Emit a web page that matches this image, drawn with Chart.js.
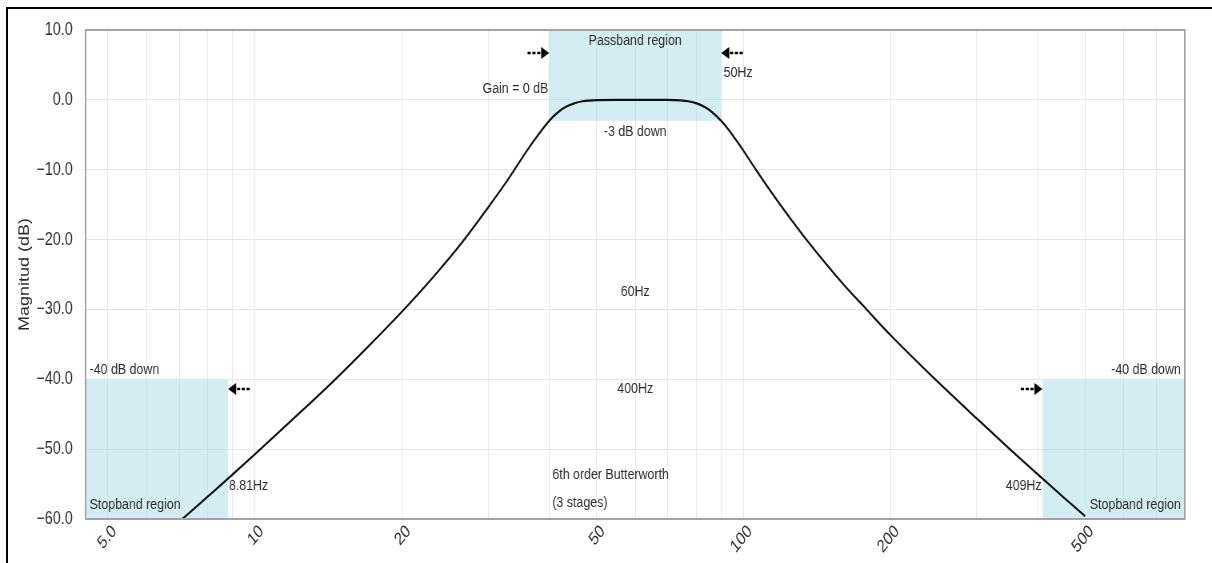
<!DOCTYPE html>
<html>
<head>
<meta charset="utf-8">
<title>Butterworth band-pass</title>
<script src="https://cdn.jsdelivr.net/npm/chart.js@4.4.0/dist/chart.umd.min.js"></script>
<style>
    html, body { margin: 0; padding: 0; background: #fff; overflow: hidden; }
    #frameTop { position: absolute; left: 6px; top: 7px; width: 1206px; height: 2px; background: #000; }
    #frameLeft { position: absolute; left: 6px; top: 7px; width: 2px; height: 556px; background: #000; }
    /* the source picture is squeezed sideways, so the chart is drawn wider and scaled back */
    #wrap { position: absolute; left: 0; top: 0; width: 1515px; height: 563px; transform: scaleX(0.8); transform-origin: 0 0; }
</style>
</head>
<body>
<div id="frameTop"></div>
<div id="frameLeft"></div>
<div id="wrap"><canvas id="bodeChart"></canvas></div>

<script>
// ===== DATA =====
const FREQ_HZ = [7.1, 8, 8.81, 10, 12, 14.6, 17, 20, 23, 26.6, 30, 32.8, 36, 38, 40, 42, 43.3, 45, 46.8, 50,
    55, 60, 65, 70, 74.3, 77, 80.2, 83.6, 86, 90, 93, 98, 100, 106, 116.6, 125, 134.4, 160, 178, 200,
    245, 300, 352, 409, 450, 500];
const MAGNITUDE_DB = [-60, -56.8, -54.2, -50.7, -45.6, -40, -35.4, -30.3, -25.6, -20.3, -15.4, -11.6, -7.3, -5, -3, -1.6, -1, -0.5, -0.2, -0.03,
    0, 0, 0, -0.01, -0.08, -0.2, -0.5, -1.1, -1.7, -3, -4.2, -6.4, -7.3, -10, -14.2, -17.1, -20, -26.4, -29.9, -33.7,
    -39.8, -45.6, -50.1, -54.2, -56.8, -59.6];

const X_GRID_HZ = [5, 6, 7, 8, 9, 10, 20, 30, 40, 50, 60, 70, 80, 90, 100, 200, 300, 400, 500, 600, 700];
const X_TICK_HZ = [5, 10, 20, 50, 100, 200, 500];
const X_TICK_LABELS = ['5.0', '10', '20', '50', '100', '200', '500'];
const X_RANGE = [4.5, 800];
const Y_RANGE = [-60, 10];
const Y_STEP = 10;

const PASSBAND_HZ = [40, 90];
const PASSBAND_FLOOR_DB = -3;
const STOPBAND_LOW_HZ = 8.81;
const STOPBAND_HIGH_HZ = 409;
const STOPBAND_CEIL_DB = -40;

// text notes: anchor in Hz / dB
const NOTES = [
    { text: 'Passband region', hz: 60, db: 8.5, align: 'center' },
    { text: 'Gain = 0 dB', hz: 40, db: 1.6, align: 'right', dx: -1 },
    { text: '50Hz', hz: 90, db: 3.9, align: 'left', dx: 3 },
    { text: '-3 dB down', hz: 60, db: -4.6, align: 'center' },
    { text: '60Hz', hz: 60, db: -27.4, align: 'center' },
    { text: '400Hz', hz: 60, db: -41.3, align: 'center' },
    { text: '6th order Butterworth', hz: 40, db: -53.7, align: 'left', dx: 4 },
    { text: '(3 stages)', hz: 40, db: -57.6, align: 'left', dx: 4 },
    { text: '-40 dB down', hz: X_RANGE[0], db: -38.7, align: 'left', dx: 5 },
    { text: 'Stopband region', hz: X_RANGE[0], db: -58, align: 'left', dx: 5 },
    { text: '8.81Hz', hz: STOPBAND_LOW_HZ, db: -55.3, align: 'left', dx: 1 },
    { text: '-40 dB down', hz: X_RANGE[1], db: -38.7, align: 'right', dx: -5 },
    { text: 'Stopband region', hz: X_RANGE[1], db: -58, align: 'right', dx: -5 },
    { text: '409Hz', hz: STOPBAND_HIGH_HZ, db: -55.3, align: 'right', dx: -1 }
];

// arrows: tip position and direction (+1 points right)
const ARROWS = [
    { hz: PASSBAND_HZ[0], db: 6.7, dir: 1 },
    { hz: PASSBAND_HZ[1], db: 6.7, dir: -1 },
    { hz: STOPBAND_LOW_HZ, db: -41.4, dir: -1 },
    { hz: STOPBAND_HIGH_HZ, db: -41.4, dir: 1 }
];

const SHADE = 'rgba(176, 222, 232, 0.55)';
const TEXT_COLOR = '#2b2b2b';
const FONT = '"Liberation Sans", Arial, sans-serif';

// ===== HELPERS =====
function fillBand(ctx, x, y, hz0, hz1, db0, db1) {
    const left = x.getPixelForValue(hz0);
    const right = x.getPixelForValue(hz1);
    const top = y.getPixelForValue(db0);
    const bottom = y.getPixelForValue(db1);
    ctx.fillRect(left, top, right - left, bottom - top);
}

function drawArrow(ctx, tipX, tipY, dir) {
    const headW = 10;
    const headH = 6;
    const tailLen = 17;
    const baseX = tipX - dir * headW;

    ctx.beginPath();
    ctx.moveTo(tipX, tipY);
    ctx.lineTo(baseX, tipY - headH);
    ctx.lineTo(baseX, tipY + headH);
    ctx.closePath();
    ctx.fill();

    ctx.beginPath();
    ctx.setLineDash([4, 2]);
    ctx.lineWidth = 2.4;
    ctx.moveTo(baseX - dir * tailLen, tipY);
    ctx.lineTo(baseX, tipY);
    ctx.stroke();
    ctx.setLineDash([]);
}

// ===== ANNOTATION PLUGIN =====
const annotationPlugin = {
    id: 'filterNotes',
    beforeDatasetsDraw(chart) {
        const { ctx, scales: { x, y } } = chart;
        ctx.save();
        ctx.fillStyle = SHADE;
        fillBand(ctx, x, y, PASSBAND_HZ[0], PASSBAND_HZ[1], Y_RANGE[1], PASSBAND_FLOOR_DB);
        fillBand(ctx, x, y, X_RANGE[0], STOPBAND_LOW_HZ, STOPBAND_CEIL_DB, Y_RANGE[0]);
        fillBand(ctx, x, y, STOPBAND_HIGH_HZ, X_RANGE[1], STOPBAND_CEIL_DB, Y_RANGE[0]);
        ctx.restore();
    },
    afterDatasetsDraw(chart) {
        const { ctx, chartArea, scales: { x, y } } = chart;
        ctx.save();

        // plot frame
        ctx.strokeStyle = '#a3a3a3';
        ctx.lineWidth = 2;
        ctx.strokeRect(chartArea.left, chartArea.top, chartArea.right - chartArea.left, chartArea.bottom - chartArea.top);

        // notes
        ctx.fillStyle = TEXT_COLOR;
        ctx.font = `15.5px ${FONT}`;
        ctx.textBaseline = 'middle';
        NOTES.forEach(note => {
            ctx.textAlign = note.align;
            ctx.fillText(note.text, x.getPixelForValue(note.hz) + (note.dx || 0), y.getPixelForValue(note.db));
        });

        // arrows
        ctx.fillStyle = '#000';
        ctx.strokeStyle = '#000';
        ARROWS.forEach(a => drawArrow(ctx, x.getPixelForValue(a.hz), y.getPixelForValue(a.db), a.dir));

        ctx.restore();
    }
};

// ===== CHART =====
new Chart(document.getElementById('bodeChart').getContext('2d'), {
    type: 'line',
    data: {
        datasets: [{
            label: 'Magnitude',
            data: FREQ_HZ.map((hz, i) => ({ x: hz, y: MAGNITUDE_DB[i] })),
            borderColor: '#111',
            borderWidth: 2.2,
            pointRadius: 0,
            cubicInterpolationMode: 'monotone',
            fill: false
        }]
    },
    options: {
        responsive: true,
        maintainAspectRatio: false,
        animation: false,
        layout: { padding: { top: 30, right: 34, left: 0, bottom: 0 } },
        plugins: {
            legend: { display: false },
            tooltip: { enabled: false }
        },
        scales: {
            x: {
                type: 'logarithmic',
                min: X_RANGE[0],
                max: X_RANGE[1],
                afterBuildTicks: scale => {
                    scale.ticks = X_GRID_HZ.map(v => ({ value: v }));
                },
                afterFit: scale => { scale.height = 44; },
                grid: { color: '#e6e6e6', lineWidth: 1, drawTicks: false },
                border: { display: false },
                ticks: {
                    autoSkip: false,
                    maxRotation: 45,
                    minRotation: 45,
                    padding: 2,
                    labelOffset: 8,
                    color: TEXT_COLOR,
                    font: { family: FONT, size: 18 },
                    callback: value => {
                        const i = X_TICK_HZ.indexOf(value);
                        return i >= 0 ? X_TICK_LABELS[i] : '';
                    }
                }
            },
            y: {
                min: Y_RANGE[0],
                max: Y_RANGE[1],
                afterFit: scale => { scale.width = 107; },
                grid: { color: '#e6e6e6', lineWidth: 1, drawTicks: false },
                border: { display: false },
                title: {
                    display: true,
                    text: 'Magnitud (dB)',
                    color: TEXT_COLOR,
                    font: { family: FONT, size: 18 },
                    padding: { top: 20, bottom: 0 }
                },
                ticks: {
                    stepSize: Y_STEP,
                    padding: 16,
                    color: TEXT_COLOR,
                    font: { family: FONT, size: 18 },
                    callback: value => value.toFixed(1).replace('-', '\u2212')
                }
            }
        }
    },
    plugins: [annotationPlugin]
});
</script>
</body>
</html>
